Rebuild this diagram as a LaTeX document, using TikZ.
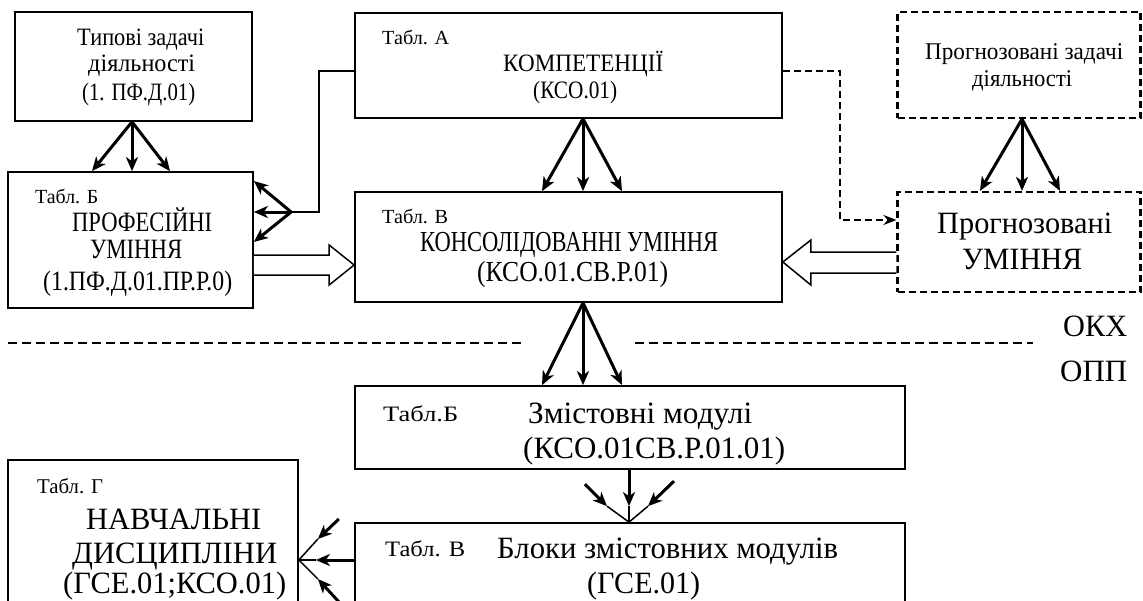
\documentclass[tikz,border=0pt]{standalone}
\usepackage{fontspec}
\setmainfont{Liberation Serif}
\usepackage{graphicx}
\usetikzlibrary{arrows.meta,calc}
\newcommand\tl[5]{\node[anchor=base west,inner sep=0pt] (#1) at (#2) {\fontsize{#3}{#3}\selectfont\resizebox{#4pt}{\height}{#5}};}
\begin{document}
\begin{tikzpicture}[x=1pt,y=-1pt,
  box/.style={draw,line width=1.7pt,inner sep=0pt,rectangle},
  dbox/.style={box,line width=2.2pt,dash pattern=on 7pt off 4pt},
  fan/.style={line width=3pt,-{Stealth[length=14pt,width=12pt,inset=4pt]}},
  thin/.style={line width=1.5pt},
  hollow/.style={line width=1.5pt,fill=white,line join=miter}]
\useasboundingbox (0,0) rectangle (1143,600);
\clip (0,0) rectangle (1143,600);
\fill[white] (0,0) rectangle (1143,600);
% boxes
\node[box,minimum width=237pt,minimum height=109pt] (typ) at (133.5,66.5) {};
\node[box,minimum width=245pt,minimum height=136pt] (prof) at (130.5,240) {};
\node[box,minimum width=427pt,minimum height=105pt] (komp) at (568.5,65.5) {};
\node[box,minimum width=427pt,minimum height=110pt] (kons) at (568.5,247) {};
\node[dbox,minimum width=243pt,minimum height=106pt] (pzad) at (1019,65) {};
\node[dbox,minimum width=243pt,minimum height=100pt] (pum) at (1019,242) {};
\node[box,minimum width=550pt,minimum height=83pt] (zmist) at (630,427.5) {};
\node[box,minimum width=550pt,minimum height=127pt] (blok) at (630,586.5) {};
\node[box,minimum width=290pt,minimum height=190pt] (navch) at (153,555) {};
% texts
\tl{typ1}{77,45}{25}{127}{Типові задачі}
\tl{typ2}{88,71}{25}{107}{діяльності}
\tl{typ3}{82,100}{25}{113}{(1. ПФ.Д.01)}
\tl{tb1}{35,203}{20}{63}{Табл. Б}
\tl{pr1}{72,231}{28}{140}{ПРОФЕСІЙНІ}
\tl{pr2}{90,258}{28}{92}{УМІННЯ}
\tl{pr3}{43,290}{28}{189}{(1.ПФ.Д.01.ПР.Р.0)}
\tl{ta}{382,44}{20}{67}{Табл. А}
\tl{km1}{503,71}{25}{160}{КОМПЕТЕНЦІЇ}
\tl{km2}{533,98}{25}{84}{(КСО.01)}
\tl{tv}{382,223}{20}{66}{Табл. В}
\tl{kn1}{420,251}{29}{298}{КОНСОЛІДОВАННІ УМІННЯ}
\tl{kn2}{477,281}{29}{191}{(КСО.01.СВ.Р.01)}
\tl{pz1}{925,59}{24}{198}{Прогнозовані задачі}
\tl{pz2}{972,86}{24}{100}{діяльності}
\tl{pu1}{937,233}{31}{175}{Прогнозовані}
\tl{pu2}{962,269}{31}{120}{УМІННЯ}
\tl{okh}{1063,336}{31}{64}{ОКХ}
\tl{opp}{1060,381}{31}{67}{ОПП}
\tl{tb2}{383,421}{22}{75}{Табл.Б}
\tl{zm1}{528,423}{31}{224}{Змістовні модулі}
\tl{zm2}{523,458}{31}{262}{(КСО.01СВ.Р.01.01)}
\tl{tv2}{385,556}{22}{80}{Табл. В}
\tl{bl1}{497,558}{31}{341}{Блоки змістовних модулів}
\tl{bl2}{587,593}{31}{113}{(ГСЕ.01)}
\tl{tg}{37,493}{21}{66}{Табл. Г}
\tl{nv1}{86,529}{31}{175}{НАВЧАЛЬНІ}
\tl{nv2}{72,563}{31}{205}{ДИСЦИПЛІНИ}
\tl{nv3}{63,593}{31}{223}{(ГСЕ.01;КСО.01)}
% divider
\draw[line width=1.8pt,dash pattern=on 9pt off 5pt] (8,343) -- (523,343);
\draw[line width=1.8pt,dash pattern=on 9pt off 5pt] (635,343) -- (1033,343);
% fans
\coordinate (s1) at ($(typ.south)+(-1.5,0)$);
\foreach \d in {-40,0,38} \draw[fan] (s1) -- ($(s1 |- prof.north)+(\d,0)$);
\coordinate (s2) at ($(komp.south)+(14.5,0)$);
\foreach \d in {-41,0,39} \draw[fan] (s2) -- ($(s2 |- kons.north)+(\d,0)$);
\coordinate (s3) at ($(pzad.south)+(3,0)$);
\foreach \d in {-42,0,38} \draw[fan] (s3) -- ($(s3 |- pum.north)+(\d,0)$);
\coordinate (s4) at ($(kons.south)+(14.5,0)$);
\foreach \d in {-41,0,39} \draw[fan] (s4) -- ($(s4 |- zmist.north)+(\d,0)$);
% komp -> prof
\draw[thin] ($(komp.west)+(0,5.5)$) -- ++(-35,0) -- ++(0,141) -- ++(-28,0) coordinate (fork);
\foreach \d in {-31,0,30} \draw[fan] (fork) -- ($(fork -| prof.east)+(0,\d)$);
% komp -> pum dashed
\draw[line width=2.2pt,dash pattern=on 7pt off 4pt,-{Stealth[length=13pt,width=10pt]}] ($(komp.east)+(0,5.5)$) -- ++(57,0) |- ($(pum.west)+(0,-22)$);
% hollow arrows
\draw[hollow] ($(prof.east)+(0,15)$) -- ($(kons.west)+(-25,8)$) -- ($(kons.west)+(-25,-2)$) -- ($(kons.west)+(0,18)$) -- ($(kons.west)+(-25,38)$) -- ($(kons.west)+(-25,28)$) -- ($(prof.east)+(0,35)$);
\draw[hollow] ($(pum.west)+(0,10)$) -- ($(kons.east)+(28,5)$) -- ($(kons.east)+(28,-7)$) -- ($(kons.east)+(0,15)$) -- ($(kons.east)+(28,38)$) -- ($(kons.east)+(28,26)$) -- ($(pum.west)+(0,31)$);
% zmist -> blok converging
\coordinate (c) at ($(blok.north)+(-1,0)$);
\draw[fan] ($(zmist.south)+(-1,0)$) -- ($(c)+(0,-16)$);
\draw[fan] ($(c)+(-44,-38)$) -- ($(c)+(-22,-16)$);
\draw[fan] ($(c)+(45,-41)$) -- ($(c)+(19,-16)$);
\draw[thin] ($(c)+(0,-16)$) -- (c);
\draw[thin] ($(c)+(-22,-16)$) -- (c);
\draw[thin] ($(c)+(19,-16)$) -- (c);
% blok -> navch converging
\coordinate (d) at ($(navch.east)+(0,5)$);
\draw[fan] (blok.west |- d) -- ($(d)+(17,0)$);
\draw[fan] ($(d)+(40,-41)$) -- ($(d)+(19,-21)$);
\draw[fan] ($(d)+(42,44)$) -- ($(d)+(19,19)$);
\draw[thin] ($(d)+(17,0)$) -- (d);
\draw[thin] ($(d)+(19,-21)$) -- (d);
\draw[thin] ($(d)+(19,19)$) -- (d);
\end{tikzpicture}
\end{document}
